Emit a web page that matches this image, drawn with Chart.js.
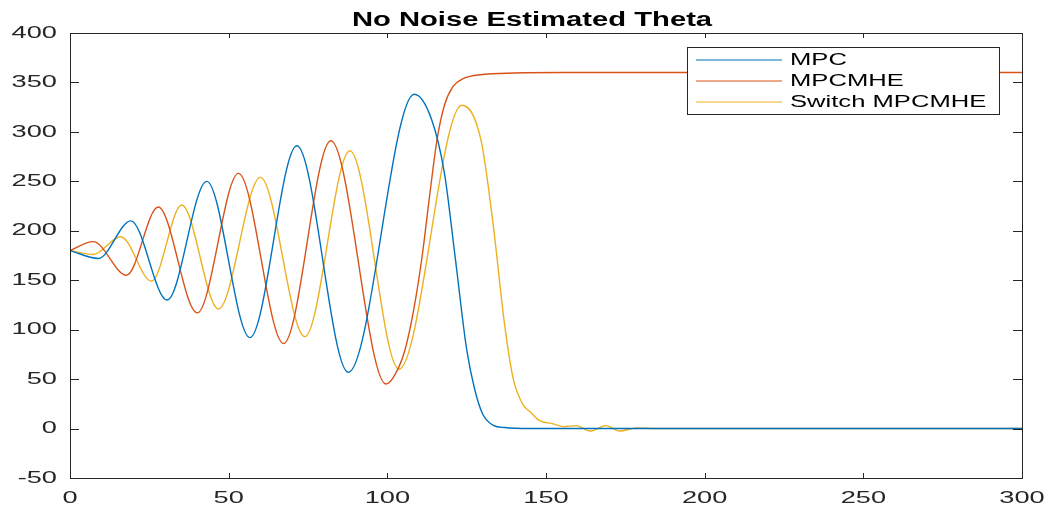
<!DOCTYPE html>
<html lang="en">
<head>
  <meta charset="UTF-8">
  <title>No Noise Estimated Theta</title>
  <script src="https://cdn.jsdelivr.net/npm/chart.js"></script>
  <style>
    body {
      margin: 0;
      background: #fff;
    }
    .wrap {
      width: 1060px;
      height: 515px;
      position: relative;
    }
  </style>
</head>
<body>
  <div class="wrap"><canvas id="theta"></canvas></div>

  <script>
    // values
    const mpcX = [0, 8.9, 19.2, 30.6, 43.1, 56.7, 71.5, 87.7, 108.5, 114, 118, 121.5, 125, 127.5, 130, 133, 137, 145, 300];
    const mpcY = [180, 172, 210, 130, 250, 92, 286, 57, 338, 312, 258, 170, 80, 40, 15, 4, 1, 0, 0];

    const mheX = [0, 7.3, 17.8, 27.8, 40.1, 53.1, 67.3, 82.2, 99.6, 102.5, 105.6, 108.3, 111, 113.5, 115.7, 118, 120.5, 124, 130, 140, 155, 300];
    const mheY = [180, 189, 155, 224, 117, 258, 86, 291, 45, 55, 80, 120, 175, 240, 293, 327, 345, 354, 358, 359.5, 360, 360];

    const swX = [0, 7.3, 16, 25.7, 35.2, 46.8, 60, 74, 88.2, 103.7, 123.5, 129.5, 133.4, 137, 139.7, 142.8, 145, 148, 152, 155.5, 159.5, 164, 168.8, 173.3, 178.5, 185, 300];
    const swY = [180, 176, 194, 149, 226, 121, 254, 93, 281, 60, 327, 292, 205, 104, 50, 24, 17, 8, 5, 2, 3, -2.5, 3, -2.5, 0.5, 0, 0];

    const seriesNames = ['MPC', 'MPCMHE', 'Switch MPCMHE'];
    const seriesColors = ['#0072BD', '#D95319', '#EDB120'];
    const xRange = [0, 300];
    const yRange = [-50, 400];
    const tickStep = 50;

    const axisColor = '#262626';

    function pts(xs, ys) {
      return xs.map((x, i) => ({ x: x, y: ys[i] }));
    }

    // text in the reference is stretched sideways
    function wideText(ctx, txt, x, y, sx, align) {
      ctx.save();
      ctx.translate(x, y);
      ctx.scale(sx, 1);
      ctx.textAlign = align;
      ctx.fillText(txt, 0, 0);
      ctx.restore();
    }

    const matlabAxes = {
      id: 'matlabAxes',
      afterDatasetsDraw(chart) {
        const ctx = chart.ctx;
        const a = chart.chartArea;
        const xs = chart.scales.x;
        const ys = chart.scales.y;

        ctx.save();
        ctx.strokeStyle = axisColor;
        ctx.lineWidth = 1;

        // box
        ctx.strokeRect(Math.round(a.left) + 0.5, Math.round(a.top) + 0.5,
          Math.round(a.right - a.left), Math.round(a.bottom - a.top));

        // inward ticks
        ctx.beginPath();
        xs.ticks.forEach(t => {
          const px = Math.round(xs.getPixelForValue(t.value)) + 0.5;
          ctx.moveTo(px, a.bottom); ctx.lineTo(px, a.bottom - 5);
          ctx.moveTo(px, a.top); ctx.lineTo(px, a.top + 5);
        });
        ys.ticks.forEach(t => {
          const py = Math.round(ys.getPixelForValue(t.value)) + 0.5;
          ctx.moveTo(a.left, py); ctx.lineTo(a.left + 9, py);
          ctx.moveTo(a.right, py); ctx.lineTo(a.right - 9, py);
        });
        ctx.stroke();

        // tick labels
        ctx.fillStyle = axisColor;
        ctx.font = '17px "Liberation Sans", Arial, sans-serif';
        ctx.textBaseline = 'middle';
        xs.ticks.forEach(t => {
          wideText(ctx, String(t.value), xs.getPixelForValue(t.value), 498, 1.6, 'center');
        });
        ys.ticks.forEach(t => {
          wideText(ctx, String(t.value), a.left - 13, ys.getPixelForValue(t.value), 1.6, 'right');
        });

        // title
        ctx.fillStyle = '#000';
        ctx.font = 'bold 20px "Liberation Sans", Arial, sans-serif';
        ctx.textBaseline = 'alphabetic';
        wideText(ctx, 'No Noise Estimated Theta', 532, 26, 1.46, 'center');

        // legend
        const lx = 687.5, ly = 47.5, lw = 312, lh = 67;
        ctx.fillStyle = '#fff';
        ctx.fillRect(lx, ly, lw, lh);
        ctx.strokeStyle = axisColor;
        ctx.strokeRect(lx, ly, lw, lh);
        const rows = [60, 81, 102];
        ctx.font = '16px "Liberation Sans", Arial, sans-serif';
        ctx.textBaseline = 'middle';
        seriesNames.forEach((name, i) => {
          ctx.strokeStyle = seriesColors[i];
          ctx.lineWidth = 1.2;
          ctx.beginPath();
          ctx.moveTo(696, rows[i]);
          ctx.lineTo(782, rows[i]);
          ctx.stroke();
          ctx.fillStyle = '#000';
          wideText(ctx, name, 790, rows[i] + 0.5, 1.6, 'left');
        });

        ctx.restore();
      }
    };

    const ctx = document.getElementById('theta').getContext('2d');
    new Chart(ctx, {
      type: 'line',
      data: {
        datasets: [
          { label: seriesNames[0], data: pts(mpcX, mpcY) },
          { label: seriesNames[1], data: pts(mheX, mheY) },
          { label: seriesNames[2], data: pts(swX, swY) }
        ].map((d, i) => Object.assign(d, {
          borderColor: seriesColors[i],
          borderWidth: 1.4,
          pointRadius: 0,
          fill: false,
          cubicInterpolationMode: 'monotone'
        }))
      },
      options: {
        responsive: true,
        maintainAspectRatio: false,
        animation: false,
        layout: { padding: { top: 33, right: 38, bottom: 0, left: 0 } },
        plugins: {
          legend: { display: false },
          title: { display: false },
          tooltip: { enabled: false }
        },
        scales: {
          x: {
            type: 'linear',
            min: xRange[0],
            max: xRange[1],
            ticks: { stepSize: tickStep, display: false },
            grid: { display: false },
            border: { display: false },
            afterFit: s => { s.height = 37; }
          },
          y: {
            min: yRange[0],
            max: yRange[1],
            ticks: { stepSize: tickStep, display: false },
            grid: { display: false },
            border: { display: false },
            afterFit: s => { s.width = 70; }
          }
        }
      },
      plugins: [matlabAxes]
    });
  </script>
</body>
</html>
